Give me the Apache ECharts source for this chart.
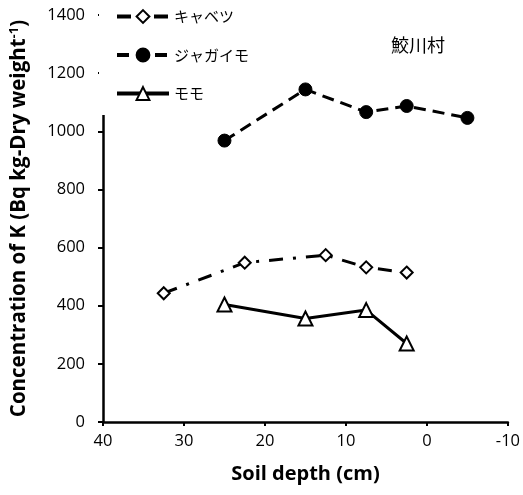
<!DOCTYPE html>
<html>
<head>
<meta charset="utf-8">
<script src="https://cdn.jsdelivr.net/npm/echarts@6/dist/echarts.min.js"></script>
<style>
  html, body { margin: 0; padding: 0; background: #fff; }
  #main { width: 523px; height: 495px; }
</style>
</head>
<body>
<div id="main"></div>
<script>
// depth (cm) and K concentration
const cabbageDepth = [32.5, 22.5, 12.5, 7.5, 2.5]
const cabbageK = [443, 548, 574, 532, 514]
const potatoDepth = [25, 15, 7.5, 2.5, -5]
const potatoK = [968, 1144, 1066, 1087, 1046]
const peachDepth = [25, 15, 7.5, 2.5]
const peachK = [404, 356, 385, 270]
const names = ['キャベツ', 'ジャガイモ', 'モモ']

const pairs = (xs, ys) => xs.map((x, i) => [x, ys[i]])
const font = '"Open Sans", "Liberation Sans", sans-serif'
const jpFont = '"Noto Sans CJK JP", sans-serif'

const chart = echarts.init(document.getElementById('main'))
chart.setOption({
    animation: false,
    backgroundColor: '#fff',
    grid: { left: 100, right: 15, top: 15, bottom: 73 },
    legend: {
        orient: 'vertical',
        left: 99,
        top: 3,
        padding: [6, 10, 14, 16],
        itemGap: 23.5,
        itemWidth: 52,
        itemHeight: 16,
        backgroundColor: '#fff',
        lineStyle: { width: 4 },
        itemStyle: { borderWidth: 2 },
        textStyle: { fontFamily: jpFont, fontSize: 15, color: '#000' },
        data: names,
    },
    graphic: [{
        type: 'text',
        left: 391,
        top: 36,
        style: { text: '鮫川村', font: '18px "Noto Sans CJK JP"', fill: '#000' },
    }],
    xAxis: {
        type: 'value',
        inverse: true,
        min: -10,
        max: 40,
        interval: 10,
        name: 'Soil depth (cm)',
        nameLocation: 'middle',
        nameGap: 42,
        nameTextStyle: { fontFamily: font, fontSize: 20, fontWeight: 'bold', color: '#000' },
        axisLine: { show: true, onZero: false, lineStyle: { color: '#000', width: 2.5 } },
        axisTick: { show: true, length: 4, lineStyle: { color: '#000', width: 2 } },
        axisLabel: { fontFamily: font, fontSize: 16.5, color: '#000', margin: 11 },
        splitLine: { show: false },
    },
    yAxis: {
        type: 'value',
        min: 0,
        max: 1400,
        interval: 200,
        name: '{a|Concentration of K (Bq kg-Dry weight}{b|-1}{a|)}',
        nameLocation: 'middle',
        nameRotate: 90,
        nameGap: 72,
        nameTextStyle: {
            rich: {
                a: { fontFamily: font, fontSize: 20.5, fontWeight: 'bold', color: '#000' },
                b: { fontFamily: font, fontSize: 13, fontWeight: 'bold', color: '#000', padding: [0, 0, 10, 0] },
            },
        },
        axisLine: { show: true, onZero: false, lineStyle: { color: '#000', width: 2.5 } },
        axisTick: { show: true, length: 5, lineStyle: { color: '#000', width: 2 } },
        axisLabel: { fontFamily: font, fontSize: 16.5, color: '#000', margin: 18, formatter: v => String(v) },
        splitLine: { show: false },
    },
    series: [
        {
            name: names[0],
            type: 'line',
            data: pairs(cabbageDepth, cabbageK),
            symbol: 'diamond',
            symbolSize: 12,
            itemStyle: { color: '#fff', borderColor: '#000', borderWidth: 2 },
            lineStyle: { color: '#000', width: 3, type: [14, 10, 3, 10] },
            z: 3,
        },
        {
            name: names[1],
            type: 'line',
            data: pairs(potatoDepth, potatoK),
            symbol: 'circle',
            symbolSize: 13,
            itemStyle: { color: '#000', borderColor: '#000', borderWidth: 1 },
            lineStyle: { color: '#000', width: 3, type: [12, 7] },
            z: 3,
        },
        {
            name: names[2],
            type: 'line',
            data: pairs(peachDepth, peachK),
            symbol: 'triangle',
            symbolSize: 14,
            itemStyle: { color: '#fff', borderColor: '#000', borderWidth: 2 },
            lineStyle: { color: '#000', width: 3, type: 'solid' },
            z: 3,
        },
    ],
})
</script>
</body>
</html>
